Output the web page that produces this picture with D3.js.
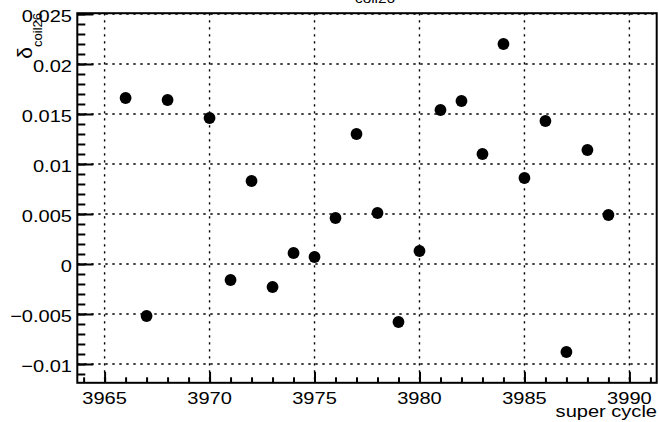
<!DOCTYPE html>
<html><head><meta charset="utf-8">
<script src="https://cdn.jsdelivr.net/npm/d3@7"></script>
<style>
html,body{margin:0;padding:0;background:#fff;}
svg{display:block;font-family:"Liberation Sans",Arial,sans-serif;}
</style></head>
<body>
<svg id="c" width="659" height="422"></svg>
<script>
const superCycle = [3966,3967,3968,3970,3971,3972,3973,3974,3975,3976,3977,3978,3979,3980,3981,3982,3983,3984,3985,3986,3987,3988,3989];
const delta = [0.0166,-0.0052,0.0164,0.0146,-0.0016,0.0083,-0.0023,0.0011,0.0007,0.0046,0.0130,0.0051,-0.0058,0.0013,0.0154,0.0163,0.0110,0.0220,0.0086,0.0143,-0.0088,0.0114,0.0049];
const xTicks = [3965,3970,3975,3980,3985,3990];
const xTickLabels = ["3965","3970","3975","3980","3985","3990"];
const yTicks = [-0.01,-0.005,0,0.005,0.01,0.015,0.02,0.025];
const yTickLabels = ["\u22120.01","\u22120.005","0","0.005","0.01","0.015","0.02","0.025"];
const xTitle = "super cycle";
const yTitleMain = "\u03b4";
const yTitleSub = "coil26";
const topTitleSub = "coil26";

const L=77.3, R=656.7, T=13.2, B=382.8;
const svg = d3.select("#c");
const x = d3.scaleLinear().domain([3963.7,3991.3]).range([L,R]);
const y = d3.scaleLinear().domain([-0.01188,0.02508]).range([B,T]);
const SX = 1.18;

// grid
const grid = svg.append("g").attr("stroke","#000").attr("stroke-width",1.4).attr("stroke-dasharray","2.4,4.6");
grid.selectAll("line.v").data(xTicks).join("line").attr("class","v")
  .attr("x1",d=>x(d)).attr("x2",d=>x(d)).attr("y1",T).attr("y2",B);
grid.selectAll("line.h").data(yTicks).join("line").attr("class","h")
  .attr("x1",L).attr("x2",R).attr("y1",d=>y(d)).attr("y2",d=>y(d));

// frame
svg.append("rect").attr("x",L).attr("y",T).attr("width",R-L).attr("height",B-T)
  .attr("fill","none").attr("stroke","#000").attr("stroke-width",2);

// axes ticks
const xMinor = d3.range(3964,3992,1);
const yMinor = d3.range(-11,26,1).map(v=>v/1000);
const ax = svg.append("g").attr("transform",`translate(0,${B})`);
ax.call(d3.axisBottom(x).tickValues(xMinor).tickSize(-5.5).tickFormat(""));
ax.append("g").call(d3.axisBottom(x).tickValues(xTicks).tickSize(-11).tickFormat(""));
ax.selectAll("path.domain").remove();
const ay = svg.append("g").attr("transform",`translate(${L},0)`);
ay.call(d3.axisLeft(y).tickValues(yMinor.filter(v=>y(v)>=T-0.5&&y(v)<=B+0.5)).tickSize(-8).tickFormat(""));
ay.append("g").call(d3.axisLeft(y).tickValues(yTicks).tickSize(-16).tickFormat(""));
ay.selectAll("path.domain").remove();
svg.selectAll(".tick line").attr("stroke","#000").attr("stroke-width",2);

// tick labels
svg.append("g").selectAll("text").data(xTicks).join("text")
  .attr("transform",d=>`translate(${x(d)},404) scale(${SX},1)`)
  .attr("text-anchor","middle").attr("font-size",17).text((d,i)=>xTickLabels[i]);
svg.append("g").selectAll("text").data(yTicks).join("text")
  .attr("transform",d=>`translate(72,${y(d)+8}) scale(${SX},1)`)
  .attr("text-anchor","end").attr("font-size",17).text((d,i)=>yTickLabels[i]);

// axis titles
svg.append("text").attr("transform",`translate(657,417) scale(${SX},1)`)
  .attr("text-anchor","end").attr("font-size",17).text(xTitle);
const yt = svg.append("text").attr("transform","translate(32,13) rotate(-90)")
  .attr("text-anchor","end");
yt.append("tspan").attr("font-size",21).text(yTitleMain);
yt.append("tspan").attr("font-size",13).attr("dy",10).text(yTitleSub);

// top title (clipped)
svg.append("text").attr("transform",`translate(375,2.5) scale(${SX},1)`)
  .attr("text-anchor","middle").attr("font-size",13).text(topTitleSub);

// markers
svg.append("g").selectAll("circle").data(superCycle).join("circle")
  .attr("cx",d=>x(d)).attr("cy",(d,i)=>y(delta[i])).attr("r",5.9).attr("fill","#000");
</script>
</body></html>
